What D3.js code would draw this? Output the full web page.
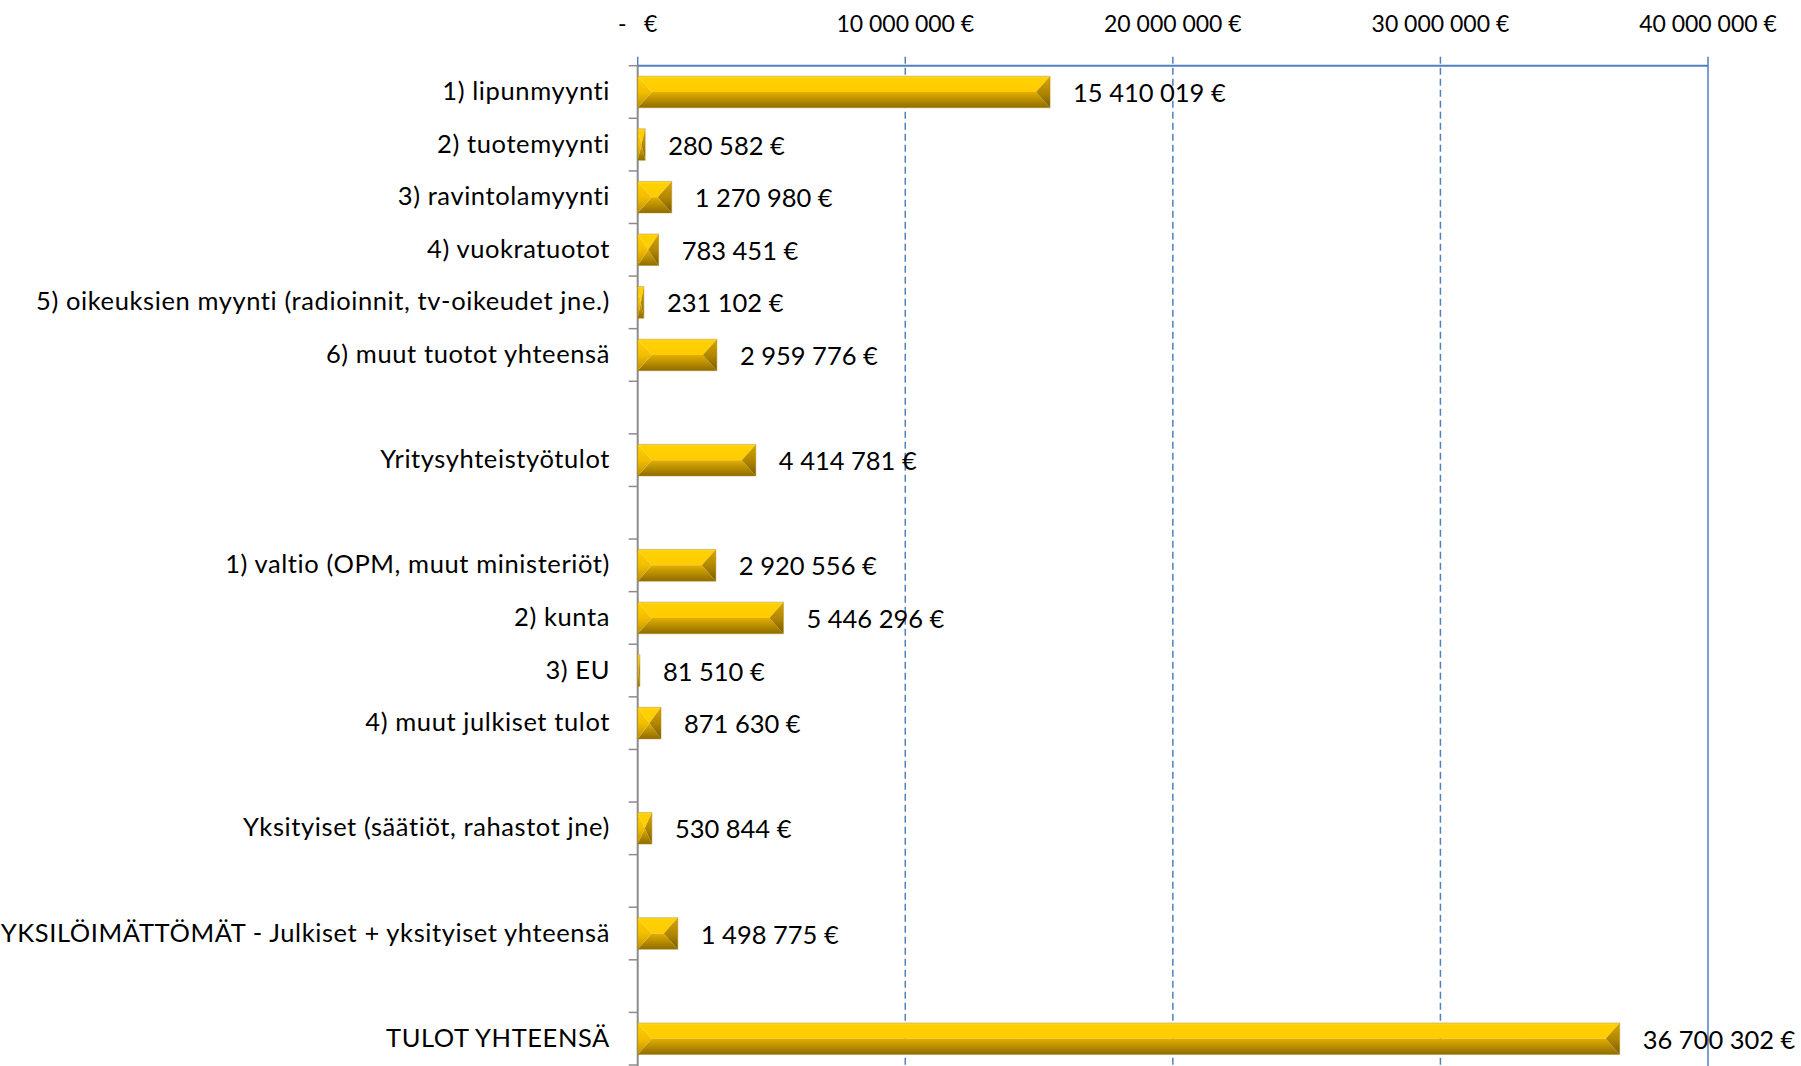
<!DOCTYPE html>
<html>
<head>
<meta charset="utf-8">
<script src="https://cdn.jsdelivr.net/npm/d3@7"></script>
<style>
  html, body { margin: 0; padding: 0; background: #fff; }
  svg { display: block; }
  text { font-family: Lato, "Open Sans", sans-serif; fill: #000; }
</style>
</head>
<body>
<svg id="chart" width="1801" height="1066"></svg>
<script>
// ---- data ----
const categories = [
  "1) lipunmyynti",
  "2) tuotemyynti",
  "3) ravintolamyynti",
  "4) vuokratuotot",
  "5) oikeuksien myynti (radioinnit, tv-oikeudet jne.)",
  "6) muut tuotot yhteensä",
  "",
  "Yritysyhteistyötulot",
  "",
  "1) valtio (OPM, muut ministeriöt)",
  "2) kunta",
  "3) EU",
  "4) muut julkiset tulot",
  "",
  "Yksityiset (säätiöt, rahastot jne)",
  "",
  "YKSILÖIMÄTTÖMÄT - Julkiset + yksityiset yhteensä",
  "",
  "TULOT YHTEENSÄ"
];
const values = [
  15410019, 280582, 1270980, 783451, 231102, 2959776,
  null,
  4414781,
  null,
  2920556, 5446296, 81510, 871630,
  null,
  530844,
  null,
  1498775,
  null,
  36700302
];
const tickValues = [0, 10000000, 20000000, 30000000, 40000000];
const tickLabels = ["-   €", "10 000 000 €", "20 000 000 €", "30 000 000 €", "40 000 000 €"];

// ---- layout ----
const svg = d3.select("#chart");
const pLeft = 637.7, pRight = 1708, pTop = 65.7, pBottom = 1065;

const x = d3.scaleLinear().domain([0, 40000000]).range([pLeft, pRight]);
const y = d3.scaleBand().domain(d3.range(categories.length)).range([pTop, pBottom])
  .paddingInner(0.4).paddingOuter(0.2);
const step = y.step();

const fmt = v => d3.format(",")(v).replace(/,/g, " ") + " €";

// gradients
const defs = svg.append("defs");
function grad(id, stops) {
  const g = defs.append("linearGradient").attr("id", id)
    .attr("x1", 0).attr("y1", 0).attr("x2", 0).attr("y2", 1);
  stops.forEach(s => g.append("stop").attr("offset", s[0]).attr("stop-color", s[1]));
}
grad("gTop", [[0, "#FFDA3A"], [0.15, "#FFD000"], [1, "#FFCB00"]]);
grad("gBot", [[0, "#E2AF00"], [1, "#8F6C00"]]);
grad("gLeft", [[0, "#FFD000"], [0.5, "#F2BE00"], [1, "#BE9000"]]);
grad("gRight", [[0, "#D5A300"], [0.5, "#B38800"], [1, "#7A5B00"]]);

// gridlines (dashed) and right border
svg.append("g").selectAll("line").data(tickValues.slice(1, 4)).join("line")
  .attr("x1", d => x(d)).attr("x2", d => x(d))
  .attr("y1", pTop - 9).attr("y2", 1066)
  .attr("stroke", "#4F81BD").attr("stroke-width", 1.5)
  .attr("stroke-dasharray", "7,4");
svg.append("line")
  .attr("x1", x(40000000)).attr("x2", x(40000000))
  .attr("y1", pTop - 9).attr("y2", 1066)
  .attr("stroke", "#4F81BD").attr("stroke-width", 1.5);

// top axis line
svg.append("line")
  .attr("x1", pLeft).attr("x2", x(40000000))
  .attr("y1", pTop).attr("y2", pTop)
  .attr("stroke", "#4F81BD").attr("stroke-width", 2);
svg.append("line")
  .attr("x1", pLeft).attr("x2", pLeft)
  .attr("y1", pTop - 9).attr("y2", pTop)
  .attr("stroke", "#4F81BD").attr("stroke-width", 1.5);

// top tick labels
svg.append("g").selectAll("text").data(tickValues).join("text")
  .attr("x", d => x(d)).attr("y", 23)
  .attr("text-anchor", "middle").attr("dominant-baseline", "central")
  .attr("font-size", 23)
  .style("white-space", "pre")
  .text((d, i) => tickLabels[i]);

// y axis line and tick marks
svg.append("line")
  .attr("x1", pLeft).attr("x2", pLeft)
  .attr("y1", pTop).attr("y2", 1066)
  .attr("stroke", "#8C8C8C").attr("stroke-width", 2);
svg.append("g").selectAll("line").data(d3.range(categories.length + 1)).join("line")
  .attr("x1", pLeft - 9).attr("x2", pLeft)
  .attr("y1", i => pTop + i * step).attr("y2", i => pTop + i * step)
  .attr("stroke", "#8C8C8C").attr("stroke-width", 1.5);

// category labels
svg.append("g").selectAll("text").data(categories.map((c, i) => ({c, i}))).join("text")
  .attr("x", 610).attr("y", d => y(d.i) + y.bandwidth() / 2 - 2)
  .attr("text-anchor", "end").attr("dominant-baseline", "central")
  .attr("font-size", 25.5)
  .attr("letter-spacing", 0.6)
  .text(d => d.c);

// bars with bevel
const barData = values.map((v, i) => ({v, i})).filter(d => d.v !== null);
const bars = svg.append("g").selectAll("g").data(barData).join("g");
function pts(arr) { return "M" + arr.map(p => p.join(",")).join("L") + "Z"; }
bars.each(function(d) {
  const g = d3.select(this);
  const x0 = x(0), x1 = x(d.v);
  const y0 = y(d.i), y1 = y(d.i) + y.bandwidth(), ym = (y0 + y1) / 2;
  const bx = Math.min(14, (x1 - x0) / 2);
  g.append("path").attr("d", pts([[x0, y0], [x1, y0], [x1 - bx, ym], [x0 + bx, ym]])).attr("fill", "url(#gTop)");
  g.append("path").attr("d", pts([[x0 + bx, ym], [x1 - bx, ym], [x1, y1], [x0, y1]])).attr("fill", "url(#gBot)");
  g.append("path").attr("d", pts([[x0, y0], [x0 + bx, ym], [x0, y1]])).attr("fill", "url(#gLeft)");
  g.append("path").attr("d", pts([[x1, y0], [x1 - bx, ym], [x1, y1]])).attr("fill", "url(#gRight)");
  g.append("rect").attr("x", x0).attr("y", y0).attr("width", Math.max(0, x1 - x0)).attr("height", y1 - y0)
    .attr("fill", "none").attr("stroke", "#B08A10").attr("stroke-opacity", 0.45).attr("stroke-width", 1);
});

// value labels
svg.append("g").selectAll("text").data(barData).join("text")
  .attr("x", d => x(d.v) + 23).attr("y", d => y(d.i) + y.bandwidth() / 2)
  .attr("dominant-baseline", "central")
  .attr("font-size", 25.5)
  .text(d => fmt(d.v));
</script>
</body>
</html>
